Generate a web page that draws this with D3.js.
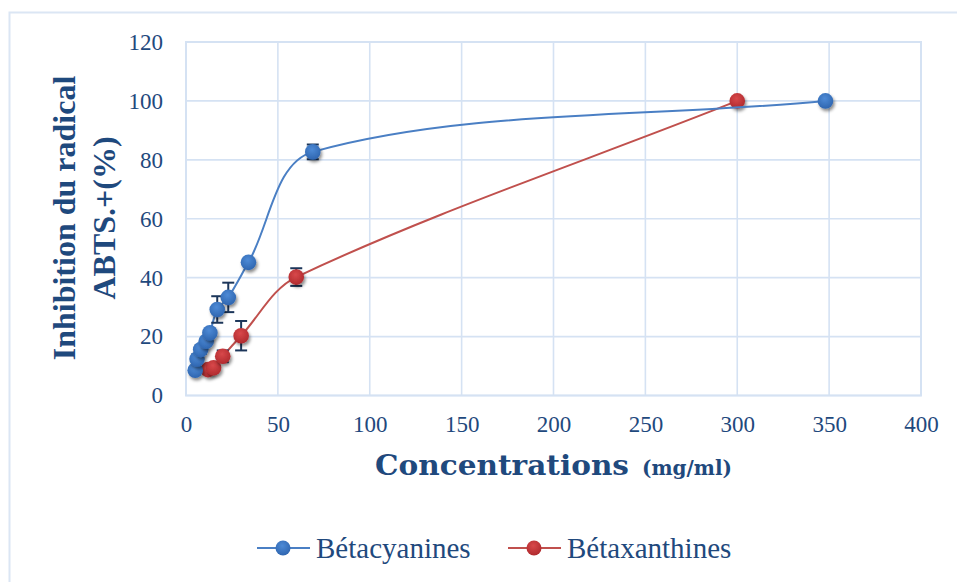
<!DOCTYPE html>
<html><head><meta charset="utf-8">
<script src="https://cdn.jsdelivr.net/npm/d3@7"></script>
<style>html,body{margin:0;padding:0;background:#fff;}svg{display:block;}</style>
</head><body>
<svg id="c" width="957" height="582"></svg>
<script>
const seriesNames = ["Bétacyanines", "Bétaxanthines"];
const betacyX = [5, 6, 8, 11, 13, 17, 23, 34, 69, 348];
const betacyY = [8.6, 12.4, 15.6, 18.4, 21.3, 29.2, 33.3, 45.2, 82.7, 100];
const betacyErr = [1, 1.5, 1.5, 1, 1, 4.5, 5, 1, 2.5, 0.5];
const betaxX = [12, 15, 20, 30, 60, 300];
const betaxY = [8.8, 9.4, 13.3, 20.3, 40.2, 100];
const betaxErr = [1, 1, 2, 5, 3, 0.5];
const xTicks = [0, 50, 100, 150, 200, 250, 300, 350, 400];
const yTicks = [0, 20, 40, 60, 80, 100, 120];

const svg = d3.select("#c");
const L = 186, R = 921, T = 42, B = 395.5;
const x = d3.scaleLinear().domain([0, 400]).range([L, R]);
const y = d3.scaleLinear().domain([0, 120]).range([B, T]);
const gridCol = "#d5e2f3", textCol = "#1f497d", errCol = "#1c365a";

const defs = svg.append("defs");
const f = defs.append("filter").attr("id","sh").attr("x","-50%").attr("y","-50%").attr("width","200%").attr("height","200%");
f.append("feDropShadow").attr("dx",1.5).attr("dy",2.5).attr("stdDeviation",1.6).attr("flood-color","#000").attr("flood-opacity",0.45);
function grad(id, c1, c2){
  const g = defs.append("radialGradient").attr("id",id).attr("cx","45%").attr("cy","35%").attr("r","65%");
  g.append("stop").attr("offset","0%").attr("stop-color",c1);
  g.append("stop").attr("offset","100%").attr("stop-color",c2);
}
grad("gb","#4d8ad6","#2f66b0");
grad("gr","#d8484a","#b02a2e");

// outer border
svg.append("path").attr("d","M9.5,590 V12.5 H960").attr("fill","none").attr("stroke","#dbe6f4").attr("stroke-width",2);

// grid
svg.append("g").selectAll("line").data(xTicks).join("line")
  .attr("x1",d=>x(d)).attr("x2",d=>x(d)).attr("y1",T).attr("y2",B)
  .attr("stroke",gridCol).attr("stroke-width",1.6);
svg.append("g").selectAll("line").data(yTicks).join("line")
  .attr("x1",L).attr("x2",R).attr("y1",d=>y(d)).attr("y2",d=>y(d))
  .attr("stroke",gridCol).attr("stroke-width",1.6);
svg.append("rect").attr("x",L).attr("y",T).attr("width",R-L).attr("height",B-T)
  .attr("fill","none").attr("stroke",gridCol).attr("stroke-width",2);

// axes with labels
const xAxis = d3.axisBottom(x).tickValues(xTicks).tickSize(0).tickPadding(20);
const gx = svg.append("g").attr("transform",`translate(0,${B})`).call(xAxis);
const yAxis = d3.axisLeft(y).tickValues(yTicks).tickSize(0).tickPadding(23);
const gy = svg.append("g").attr("transform",`translate(${L},0)`).call(yAxis);
[gx, gy].forEach(g=>{
  g.select(".domain").remove();
  g.selectAll("text").attr("fill",textCol).style("font-family","'Liberation Serif', serif").style("font-size","23px");
});

// smoothed line (chord-weighted Bezier tangents, similar to spreadsheet smoothing)
function smoothPath(P){
  const p = d3.path();
  const dist = (a,b)=>Math.hypot(b[0]-a[0], b[1]-a[1]);
  p.moveTo(P[0][0], P[0][1]);
  for (let i = 0; i < P.length-1; i++){
    const p0 = P[Math.max(i-1,0)], p1 = P[i], p2 = P[i+1], p3 = P[Math.min(i+2,P.length-1)];
    const d01 = dist(p0,p1), d12 = dist(p1,p2), d23 = dist(p2,p3);
    const w1 = d12/((d01+d12)||1), w2 = d12/((d12+d23)||1);
    const c1 = [p1[0]+(p2[0]-p0[0])*w1/3, p1[1]+(p2[1]-p0[1])*w1/3];
    const c2 = [p2[0]-(p3[0]-p1[0])*w2/3, p2[1]-(p3[1]-p1[1])*w2/3];
    p.bezierCurveTo(c1[0],c1[1],c2[0],c2[1],p2[0],p2[1]);
  }
  return p.toString();
}
function drawSeries(xs, ys, es, lineCol, fillId){
  const pts = xs.map((d,i)=>({x:d, y:ys[i], e:es[i]}));
  svg.append("path")
    .attr("d", smoothPath(pts.map(d=>[x(d.x), y(d.y)])))
    .attr("fill","none").attr("stroke",lineCol).attr("stroke-width",2);
  const eb = svg.append("g").attr("stroke",errCol).attr("stroke-width",2);
  pts.forEach(d=>{
    eb.append("line").attr("x1",x(d.x)).attr("x2",x(d.x)).attr("y1",y(d.y-d.e)).attr("y2",y(d.y+d.e));
    [d.y-d.e, d.y+d.e].forEach(v=>eb.append("line").attr("x1",x(d.x)-6).attr("x2",x(d.x)+6).attr("y1",y(v)).attr("y2",y(v)));
  });
  svg.append("g").selectAll("circle").data(pts).join("circle")
    .attr("cx",d=>x(d.x)).attr("cy",d=>y(d.y)).attr("r",7.8)
    .attr("fill",`url(#${fillId})`).attr("filter","url(#sh)");
}
drawSeries(betaxX, betaxY, betaxErr, "#c0504d", "gr");
drawSeries(betacyX, betacyY, betacyErr, "#4a7fc4", "gb");

// axis titles
const xt = svg.append("text").attr("x",375).attr("y",474.5).attr("fill",textCol)
  .style("font-family","'DejaVu Serif', serif").style("font-weight","bold");
xt.append("tspan").style("font-size","28px").attr("textLength",254).attr("lengthAdjust","spacingAndGlyphs").text("Concentrations");
xt.append("tspan").attr("x",642).style("font-size","20px").attr("textLength",90).attr("lengthAdjust","spacingAndGlyphs").text("(mg/ml)");

const yt = svg.append("g").attr("fill",textCol).style("font-family","'Liberation Serif', serif")
  .style("font-weight","bold").style("font-size","32px").attr("text-anchor","middle");
yt.append("text").attr("transform","translate(75,218) rotate(-90)").text("Inhibition du radical");
yt.append("text").attr("transform","translate(115,218) rotate(-90)").text("ABTS.+(%)");

// legend
const leg = [{n:seriesNames[0], c:"#4a7fc4", f:"gb", x0:257}, {n:seriesNames[1], c:"#c0504d", f:"gr", x0:508}];
leg.forEach(d=>{
  const g = svg.append("g");
  g.append("line").attr("x1",d.x0).attr("x2",d.x0+53).attr("y1",548).attr("y2",548).attr("stroke",d.c).attr("stroke-width",2);
  g.append("circle").attr("cx",d.x0+26).attr("cy",548).attr("r",7.5).attr("fill",`url(#${d.f})`);
  g.append("text").attr("x",d.x0+59).attr("y",557.5).attr("fill",textCol)
    .style("font-family","'Liberation Serif', serif").style("font-size","29px").text(d.n);
});
</script>
</body></html>
